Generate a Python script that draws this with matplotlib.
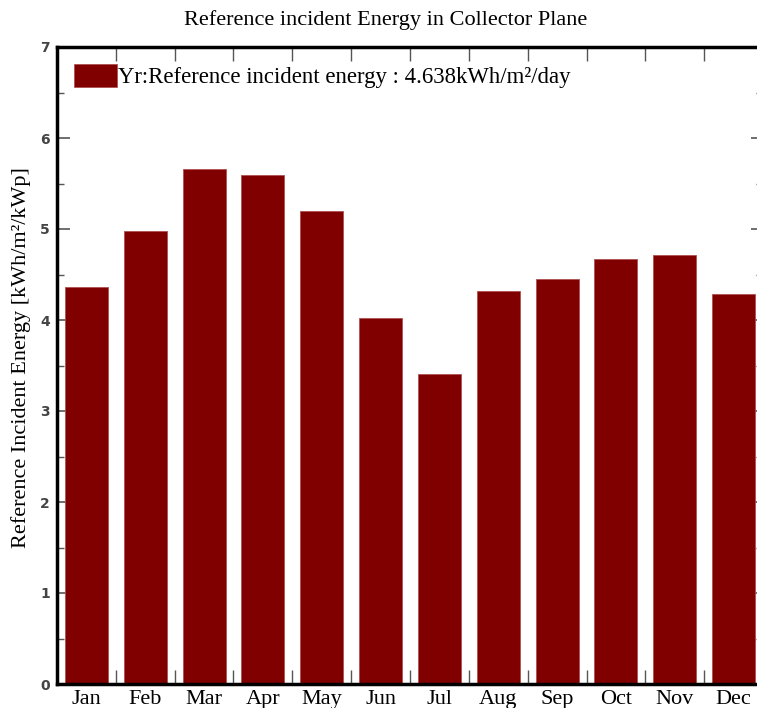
import matplotlib
matplotlib.use("Agg")
import matplotlib.pyplot as plt
import numpy as np
from matplotlib.ticker import MultipleLocator, FixedLocator

months = ['Jan', 'Feb', 'Mar', 'Apr', 'May', 'Jun',
          'Jul', 'Aug', 'Sep', 'Oct', 'Nov', 'Dec']
energy = [4.36, 4.98, 5.66, 5.59, 5.20, 4.02,
          3.41, 4.32, 4.45, 4.67, 4.71, 4.29]
yearly_mean = 4.638

W, H = 757, 708
fig = plt.figure(figsize=(W / 100, H / 100), dpi=100)
# axes: left spine x=57, bottom y=684, top y=47, right edge falls just past the image
ax = fig.add_axes([57 / W, (H - 684) / H, (763 - 57) / W, (684 - 47) / H])

x = np.arange(len(months))
ax.bar(x, energy, width=0.73, color='#800000', edgecolor='#b05050',
       linewidth=0.6, zorder=2,
       label='Yr:Reference incident energy : %.3fkWh/m\u00b2/day' % yearly_mean)

ax.set_xlim(-0.5, len(months) - 0.5)
ax.set_ylim(0, 7)

serif = 'Liberation Serif'

# x ticks: labels at centres, tick marks at the bar boundaries
ax.set_xticks(x)
ax.set_xticklabels(months, fontsize=16, family=serif)
ax.xaxis.set_minor_locator(FixedLocator(np.arange(0.5, len(months) - 0.5, 1)))
ax.tick_params(axis='x', which='major', length=0, pad=4)
ax.tick_params(axis='x', which='minor', direction='in', length=10, width=1,
               color='#555555', top=True, bottom=True)

ax.yaxis.set_major_locator(MultipleLocator(1))
ax.yaxis.set_minor_locator(MultipleLocator(0.5))
ax.tick_params(axis='y', which='major', direction='in', length=9, width=1.2,
               color='#555555', labelsize=10, labelcolor='#444444',
               right=True, pad=5)
ax.tick_params(axis='y', which='minor', direction='in', length=5, width=1,
               color='#555555', right=True)
for lbl in ax.get_yticklabels():
    lbl.set_fontweight('bold')

for side in ['left', 'bottom', 'top', 'right']:
    ax.spines[side].set_linewidth(2.5)
    ax.spines[side].set_color('black')

ax.set_ylabel('Reference Incident Energy [kWh/m\u00b2/kWp]', fontsize=16,
              family=serif)
ax.yaxis.set_label_coords(-0.037, 0.513)

fig.text(386 / W, 1 - 20 / H, 'Reference incident Energy in Collector Plane',
         ha='center', va='center', fontsize=16, family=serif)

leg = ax.legend(loc='upper left', frameon=False, prop={'family': serif, 'size': 16.4},
                handlelength=1.9, handleheight=1.15, handletextpad=0.03,
                borderaxespad=0.35, borderpad=0.4)

fig.savefig('out.png', dpi=100)
